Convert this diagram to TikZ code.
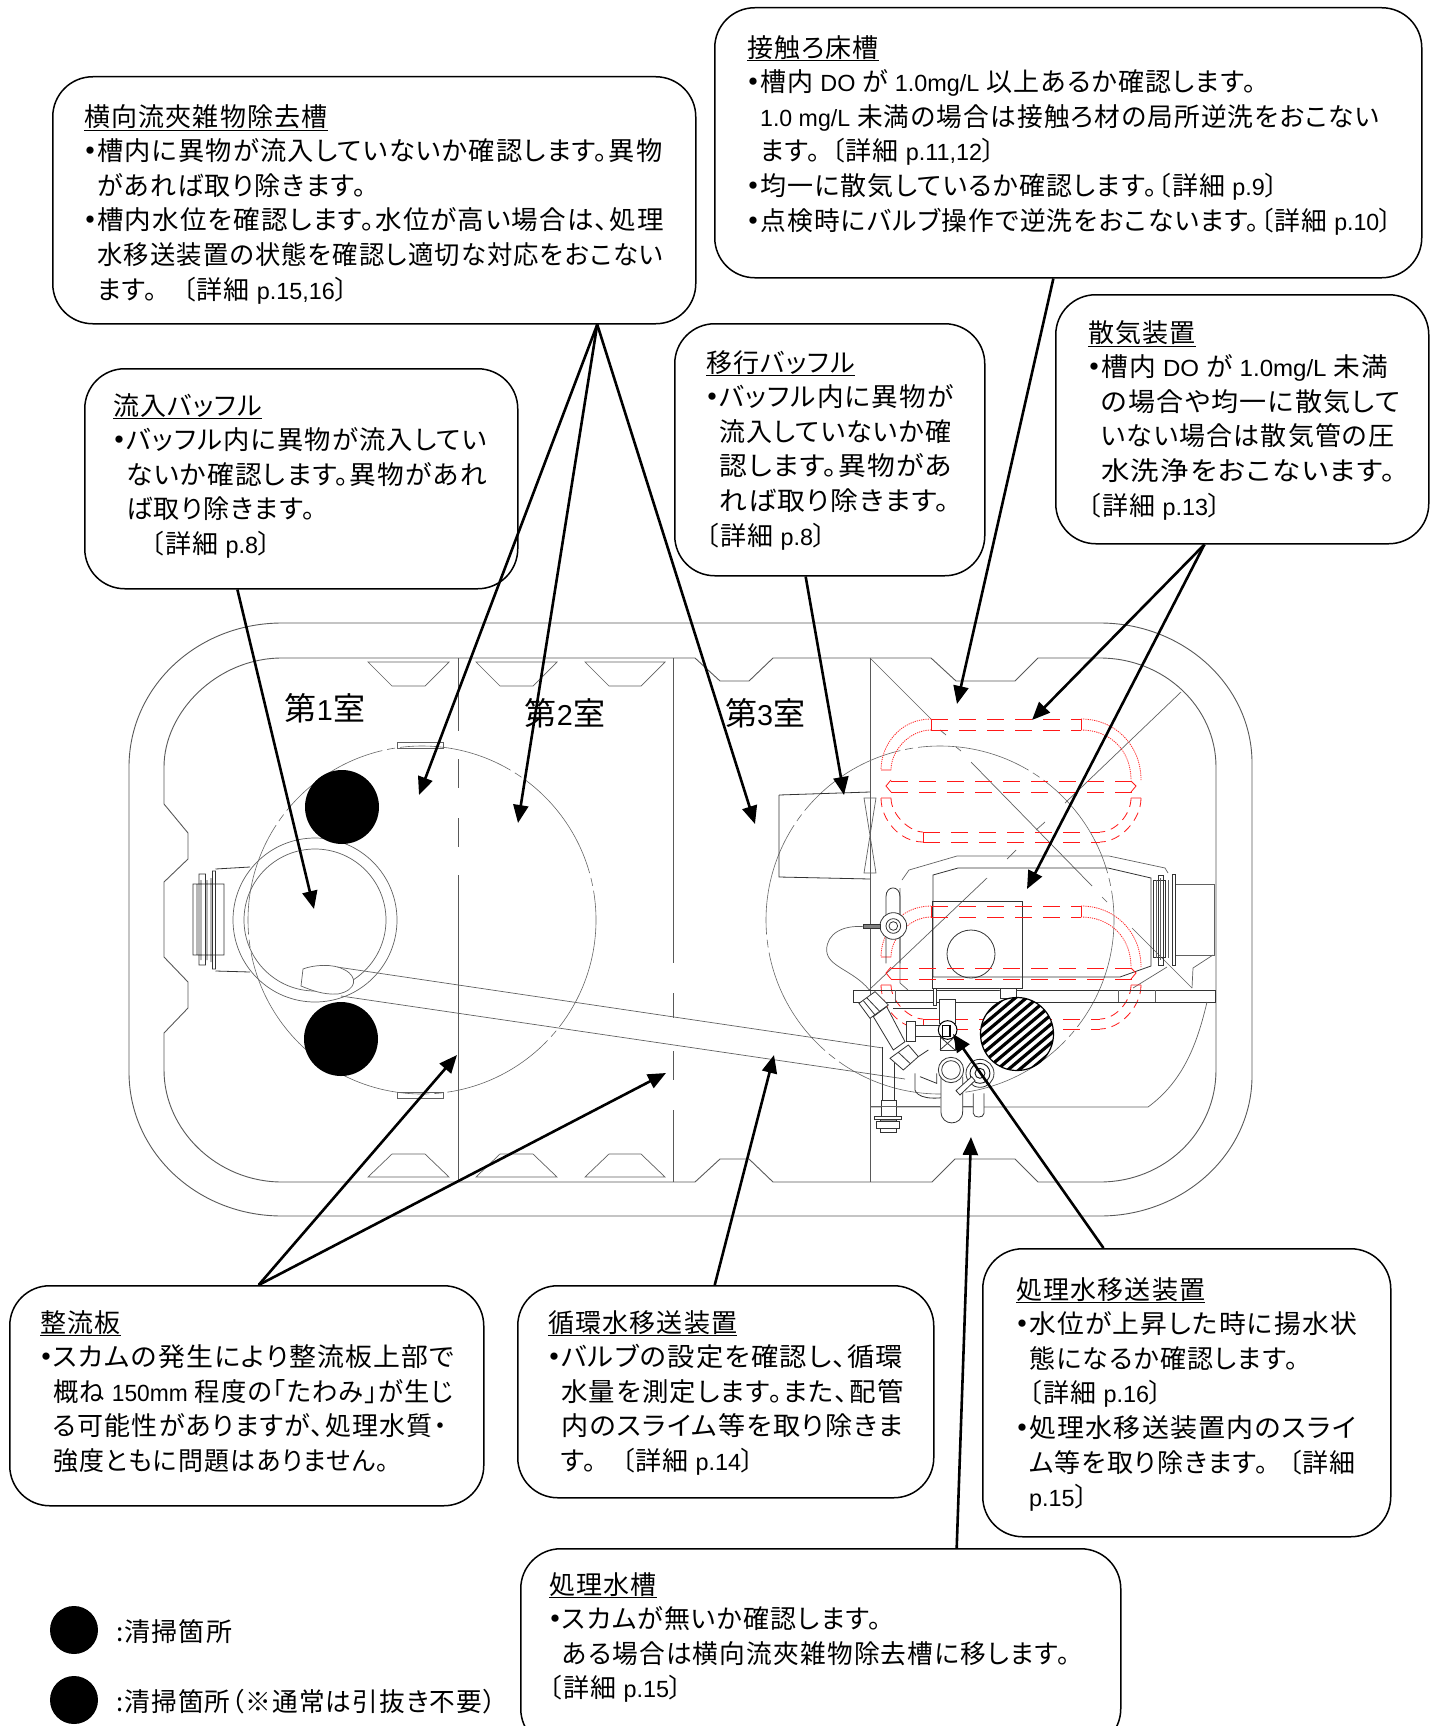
\documentclass[tikz,border=0pt]{standalone}
\usepackage{fontspec}
\usetikzlibrary{arrows.meta,calc}
\setmainfont[RawFeature=+palt,LetterSpace=4.5]{Noto Sans CJK JP}
\newfontfamily\latf[Scale=.9]{Liberation Sans}
\newcommand{\lat}[1]{{\latf #1}}
\newcommand{\bu}{\makebox[13pt][c]{\textbf{・}}}
\newcommand{\ind}{\hspace*{13pt}}
\newcommand{\sx}[2]{\scalebox{#1}[1]{#2}}
\tikzset{
  callout/.style={draw=black,line width=1.5pt,rounded corners=40pt,fill=white,inner sep=0pt,anchor=north west},
  lbl/.style={anchor=north west,inner sep=0pt,align=left,font=\fontsize{26}{34.6}\selectfont},
  room/.style={inner sep=0pt,font=\fontsize{32}{36}\selectfont},
  ptr/.style={line width=2.6pt,-{Triangle[length=18pt,width=15pt]},shorten <=0pt},
  ln/.style={draw=black!62,line width=.7pt},
  wall/.style={draw=black!65,line width=.9pt},
  ink/.style={draw=black!80,line width=.8pt},
  rd/.style={draw=red!90,line width=.8pt,dash pattern=on 17pt off 11pt},
  rdot/.style={draw=red!85,line width=.8pt,dash pattern=on 1.2pt off 1pt},
  rsolid/.style={draw=red!90,line width=.8pt},
  dashc/.style={draw=black!60,line width=.6pt,dash pattern=on 115pt off 5pt on 8pt off 5pt},
  blob/.style={fill=black,draw=none}
}
\begin{document}
\begin{tikzpicture}[x=1pt,y=-1pt]
\clip (0,0) rectangle (1431,1726);
\fill[white] (0,0) rectangle (1431,1726);

% tank outer
\path[wall] (282,623) -- (1100,623) .. controls (1184,623) and (1252,686) .. (1252,763)
  -- (1252,1076) .. controls (1252,1153) and (1184,1216) .. (1100,1216)
  -- (282,1216) .. controls (197,1216) and (129,1152) .. (129,1072)
  -- (129,767) .. controls (129,687) and (197,623) .. (282,623);
% tank inner
\path[wall] (282,658) -- (695,658) -- (720,681) -- (749,681) -- (773,658) -- (931,658) -- (956,681) -- (1015,681) -- (1038,658) -- (1100,658)
  .. controls (1164,658) and (1216,707) .. (1216,767) -- (1216,1070)
  .. controls (1216,1133) and (1164,1182) .. (1100,1182)
  -- (1038,1182) -- (1015,1159) -- (955,1159) -- (932,1182) -- (773,1182) -- (749,1159) -- (720,1159) -- (695,1182) -- (282,1182)
  .. controls (217,1182) and (164,1130) .. (164,1070)
  -- (164,1033) -- (188,1008) -- (188,982) -- (164,957) -- (164,882) -- (188,859) -- (188,833) -- (164,804) -- (164,767)
  .. controls (164,712) and (217,658) .. (282,658);

% trapezoids
\foreach \a/\b in {368/449,476/557,585/665}{
  \path[ln] (\a,662) -- (\b,662) -- (\b-24,686) -- (\a+24,686) -- cycle;
  \path[ln] (\a,1177) -- (\b,1177) -- (\b-24,1154) -- (\a+24,1154) -- cycle;
}
% partitions
\path[wall] (458,658) -- (458,731) (458,759) -- (458,788) (458,818) -- (458,847) (458,875) -- (458,1182);
\path[wall] (673,658) -- (673,963) (673,993) -- (673,1018) (673,1051) -- (673,1080) (673,1110) -- (673,1182);
\path[wall] (870,658) -- (870,1182);

% big circles
\path[dashc] (422,920) circle[radius=174];
\path[dashc] (940,920) circle[radius=174];
\path[ln] (397,742) rectangle (443,748) (397,1092) rectangle (443,1098);

% inflow pipe
\path[ln] (315,920) circle[radius=82] (315,920) circle[radius=71];
\path[ink] (193,884) rectangle (224,955) (199,874) rectangle (205.5,965) (212.5,871) rectangle (215.5,969)
  (215.5,869) -- (250,867) (215.5,971) -- (250,972)
  (197,884) -- (197,955) (201,880) -- (201,960) (207,880) -- (207,960) (211,878) -- (211,962);
% flow baffle plate
\path[ln] (337,967) -- (883,1048) (341,996) -- (905,1079);
\path[ln,fill=white] (303,969) .. controls (313,965) and (333,963) .. (345,970) .. controls (358,977) and (357,990) .. (338,994) .. controls (323,995) and (311,990) .. (301,986) -- cycle;

% black cleaning circles
\fill[blob] (342,807) circle[radius=37] (341,1039) circle[radius=37];

% room labels
\node[room] (room1) at (325,708) {第\lat{1}室};
\node[room] (room2) at (565,713) {第\lat{2}室};
\node[room] (room3) at (765,713) {第\lat{3}室};

% right-hand diagonals
\path[ln] (870,658) -- (931,719) (940,730) -- (946,735) (956,747) -- (961,751) (971,762) -- (1092,886) (1102,897) -- (1107,902) (1132,928) -- (1192,988);
\path[ln] (1181,692) -- (1065,803) (1045,822) -- (1036,830) (1016,850) -- (1007,859) (987,878) -- (869,990);

% transfer baffle
\path[ink] (779,795) -- (870,792) (779,795) -- (779,877) -- (870,879);
\path[ln] (864,798) -- (876,798) -- (864,873) -- (876,873) -- cycle;

% housing
\path[ln] (902,880) -- (909,870) -- (957,856) -- (1109,856) -- (1165,868) -- (1168,873)
  (900,888) -- (900,983) -- (908,990) (1167,967) -- (1133,988);
\path[ink] (933,875) -- (958,868) -- (1108,868) -- (1151,878) -- (1151,966) -- (1120,977) -- (933,977) -- cycle;
\path[ink] (932,901) rectangle (1022,988);
\path[ink] (971,954) circle[radius=24];

% right flange
\path[ln] (1175,884) -- (1214,884) -- (1214,955) -- (1175,955);
\path[ink] (1153,880) rectangle (1165,957) (1172,874) rectangle (1175,965) (1158,875) rectangle (1163,965);
\path[ln] (1156,880) -- (1156,958) (1160,878) -- (1160,960) (1168,880) -- (1168,958);
\path[ln] (1192,988) -- (1193,968) -- (1213,955);

% red coils
\foreach \dy in {0,187}{
\begin{scope}[yshift=-\dy pt]
  \path[rd] (931,719) -- (1081,719) (931,730) -- (1081,730);
  \path[rsolid] (931,719) -- (931,730) (1081,719) -- (1081,730);
  \path[rdot] (931,719) .. controls (900,719) and (881,745) .. (881,770)
              (931,730) .. controls (910,730) and (891,750) .. (891,770)
              (1081,719) .. controls (1115,719) and (1141,745) .. (1141,780)
              (1081,730) .. controls (1110,730) and (1131,750) .. (1131,780);
  \path[rsolid] (881,770) -- (891,770) (881,798) -- (891,798) (1131,798) -- (1141,798)
     (891,780) -- (886,786) -- (891,792) (1131,781) -- (1136,786) -- (1131,792);
  \path[rd] (891,781) -- (1133,781) (891,792) -- (1133,792);
  \path[rd,dash pattern=on 9pt off 6pt] (881,798) .. controls (881,820) and (900,842) .. (923,842)
     (891,798) .. controls (891,815) and (910,832) .. (923,832)
     (1141,798) .. controls (1141,820) and (1120,842) .. (1100,842)
     (1131,798) .. controls (1131,815) and (1115,832) .. (1100,832);
  \path[rd] (923,832) -- (1100,832) (923,842) -- (1100,842);
  \path[rsolid] (923,832) -- (923,842);
\end{scope}
}

% plate and tank below
\path[ink] (853,990) rectangle (1215,1002);
\path[ln] (895,990) -- (895,1002) (1118,990) -- (1118,1002) (1155,990) -- (1155,1002);
\path[ln] (1207,1002) .. controls (1198,1040) and (1185,1080) .. (1148,1107) -- (870,1107);

% pipe work, in crop coordinates
\begin{scope}[shift={(780,860)},x=.3333pt,y=-.3333pt]
  \path[ink] (318,110) .. controls (318,75) and (360,75) .. (360,110) -- (360,310) (318,110) -- (318,310);
  \path[ink,fill=white] (340,198) circle[radius=40];
  \path[ink] (340,198) circle[radius=22] (340,198) circle[radius=13];
  \path[ink,fill=black!50] (250,192) rectangle (300,205);
  \path[ln] (250,200) .. controls (190,195) and (140,220) .. (140,270) .. controls (140,320) and (220,330) .. (268,390);
  \path[ink,fill=white] (460,385) rectangle (470,435) (660,385) rectangle (710,415);
  \path[ink] (340,445) -- (470,445) (470,385) -- (470,435);
  % diagonal pipe
  \path[ink,fill=white] (280,470) -- (340,570) -- (375,545) -- (320,440) -- cycle;
  \path[ink,fill=white] (237,430) -- (285,395) -- (325,435) -- (270,475) -- cycle;
  \path[ink] (260,413) -- (300,455) (250,422) -- (285,465);
  \path[ink,fill=white] (330,595) -- (385,555) -- (415,590) -- (370,630) -- cycle;
  \path[ink] (355,577) -- (392,612);
  % vertical down pipe and bolt
  \path[ink] (308,560) -- (308,720) (342,610) -- (342,720);
  \path[ink,fill=white] (305,722) rectangle (348,770);
  \path[ink,fill=white] (283,770) rectangle (365,778) (290,785) rectangle (358,805) (300,805) rectangle (350,818);
  \path[ink,fill=black!40] (300,778) rectangle (350,785);
  % horizontal branch
  \path[ink,fill=white] (380,483) rectangle (405,545) (405,497) rectangle (490,530);
  \path[ink,fill=white] (478,417) rectangle (525,490);
  \path[ink,fill=white] (480,530) rectangle (525,570);
  \path[ink] (480,530) -- (525,570) (525,530) -- (480,570);
  \path[draw=black,line width=1pt,fill=white] (503,510) circle[radius=28];
  \path[draw=black,line width=1.2pt,fill=white] (487,497) rectangle (510,530);
  % lower body
  \path[ink] (405,640) -- (405,690) .. controls (410,710) and (450,725) .. (530,705);
  \path[ink] (415,590) -- (445,570) (420,650) -- (470,670) -- (470,640);
  \path[ink,fill=white] (483,650) -- (483,755) .. controls (483,800) and (548,800) .. (548,755) -- (548,650);
  \path[ink,fill=white] (580,700) -- (580,760) .. controls (580,775) and (612,775) .. (612,760) -- (612,700);
  \path[ink,fill=white] (513,630) circle[radius=38];
  \path[ink] (513,630) circle[radius=28];
  \path[ink,fill=white] (600,640) circle[radius=42];
  \path[draw=black!90,line width=.9pt] (600,640) circle[radius=30] (600,640) circle[radius=15];
  \path[ink,fill=white] (528,692) -- (575,650) -- (585,662) -- (540,705) -- cycle;
  \path[ln] (270,740) -- (480,740) (550,740) -- (580,740);
\end{scope}

% hatched circle
\begin{scope}
  \clip (1017,1034) circle[radius=36.5];
  \fill[white] (1017,1034) circle[radius=36.5];
  \begin{scope}[shift={(1017,1034)}]
    \foreach \k in {-7,...,7}
      \draw[black,line width=3.2pt] (-60,{\k*9.4+50.4}) -- (60,{\k*9.4-50.4});
  \end{scope}
\end{scope}
\node[draw=black,line width=1.2pt,circle,minimum size=73pt,inner sep=0pt] (hatch) at (1017,1034) {};

% callouts
\node[callout,minimum width=643pt,minimum height=247pt] (boxA) at (52,76) {};
\node[callout,minimum width=707pt,minimum height=270pt] (boxB) at (714,7) {};
\node[callout,minimum width=433pt,minimum height=220pt] (boxC) at (84,368) {};
\node[callout,minimum width=310pt,minimum height=252pt] (boxD) at (674,323) {};
\node[callout,minimum width=373pt,minimum height=249pt] (boxE) at (1055,294) {};
\node[callout,minimum width=474pt,minimum height=220pt] (boxF) at (9,1285) {};
\node[callout,minimum width=416pt,minimum height=212pt] (boxG) at (517,1285) {};
\node[callout,minimum width=408pt,minimum height=288pt] (boxH) at (982,1248) {};
\node[callout,minimum width=600pt,minimum height=200pt] (boxI) at (520,1548) {};

\node[lbl] (txtA) at (84,104) {\underline{横向流夾雑物除去槽}\\
\bu \sx{1.01}{槽内に異物が流入していないか確認します。異物}\\
\ind があれば取り除きます。\\
\bu \sx{1.02}{槽内水位を確認します。水位が高い場合は、処理}\\
\ind \sx{.975}{水移送装置の状態を確認し適切な対応をおこない}\\
\ind ます。\hspace*{25pt}〔詳細 \lat{p.15,16}〕};
\node[lbl] (txtB) at (747,35) {\underline{接触ろ床槽}\\
\bu 槽内 \lat{DO} が \lat{1.0mg/L} 以上あるか確認します。\\
\ind \sx{.988}{\lat{1.0 mg/L} 未満の場合は接触ろ材の局所逆洗をおこない}\\
\ind ます。\hspace*{11pt}〔詳細 \lat{p.11,12}〕\\
\bu 均一に散気しているか確認します。〔詳細 \lat{p.9}〕\\
\bu \sx{.99}{点検時にバルブ操作で逆洗をおこないます。〔詳細 \lat{p.10}〕}};
\node[lbl] (txtC) at (113,393) {\underline{流入バッフル}\\
\bu \sx{1.012}{バッフル内に異物が流入してい}\\
\ind \sx{1.028}{ないか確認します。異物があれ}\\
\ind ば取り除きます。\\
\hspace*{38pt}〔詳細 \lat{p.8}〕};
\node[lbl] (txtD) at (706,350) {\underline{移行バッフル}\\
\bu \sx{1.024}{バッフル内に異物が}\\
\ind 流入していないか確\\
\ind \sx{1.07}{認します。異物があ}\\
\ind \sx{1.067}{れば取り除きます。}\\
〔詳細 \lat{p.8}〕};
\node[lbl] (txtE) at (1088,320) {\underline{散気装置}\\
\bu \sx{1.028}{槽内 \lat{DO} が \lat{1.0mg/L} 未満}\\
\ind \sx{1.04}{の場合や均一に散気して}\\
\ind いない場合は散気管の圧\\
\ind \sx{1.094}{水洗浄をおこないます。}\\
〔詳細 \lat{p.13}〕};
\node[lbl] (txtF) at (40,1310) {\underline{整流板}\\
\bu \sx{1.034}{スカムの発生により整流板上部で}\\
\ind \sx{.973}{概ね \lat{150mm} 程度の「たわみ」が生じ}\\
\ind る可能性がありますが、処理水質・\\
\ind \sx{.959}{強度ともに問題はありません。}};
\node[lbl] (txtG) at (548,1310) {\underline{循環水移送装置}\\
\bu \sx{1.05}{バルブの設定を確認し、循環}\\
\ind \sx{1.016}{水量を測定します。また、配管}\\
\ind \sx{1.044}{内のスライム等を取り除きま}\\
\ind す。\hspace*{25pt}〔詳細 \lat{p.14}〕};
\node[lbl] (txtH) at (1016,1277) {\underline{処理水移送装置}\\
\bu \sx{1.03}{水位が上昇した時に揚水状}\\
\ind 態になるか確認します。\\
\ind 〔詳細 \lat{p.16}〕\\
\bu \sx{1.038}{処理水移送装置内のスライ}\\
\ind ム等を取り除きます。\hspace*{20pt}〔詳細\\
\ind \lat{p.15}〕};
\node[lbl] (txtI) at (549,1572) {\underline{処理水槽}\\
\bu スカムが無いか確認します。\\
\ind \sx{.988}{ある場合は横向流夾雑物除去槽に移します。}\\
〔詳細 \lat{p.15}〕};

% legend
\fill[blob] (74,1630) circle[radius=24];
\fill[blob] (74,1700) circle[radius=24];
\node[lbl] (leg1) at (116,1619) {:清掃箇所};
\node[lbl] (leg2) at (116,1689) {\sx{.986}{:清掃箇所（※通常は引抜き不要）}};

% connector free ends
\coordinate (t1) at (419,795);
\coordinate (t2) at (518,823);
\coordinate (t3) at (755,824);
\coordinate (t4) at (314,909);
\coordinate (t5) at (844,795);
\coordinate (t6) at (957,704);
\coordinate (t7) at (1032,720);
\coordinate (t8) at (1027,889);
\coordinate (t9) at (457,1055);
\coordinate (t10) at (666,1073);
\coordinate (t11) at (774,1055);
\coordinate (t12) at (953,1034);
\coordinate (t13) at (971,1137);

\draw[ptr] ($(boxA.south west)!.846!(boxA.south east)$) -- (t1);
\draw[ptr] ($(boxA.south west)!.846!(boxA.south east)$) -- (t2);
\draw[ptr] ($(boxA.south west)!.846!(boxA.south east)$) -- (t3);
\draw[ptr] ($(boxC.south west)!.353!(boxC.south east)$) -- (t4);
\draw[ptr] ($(boxD.south west)!.4226!(boxD.south east)$) -- (t5);
\draw[ptr] ($(boxB.south west)!.479!(boxB.south east)$) -- (t6);
\draw[ptr] ($(boxE.south west)!.399!(boxE.south east)$) -- (t7);
\draw[ptr] ($(boxE.south west)!.399!(boxE.south east)$) -- (t8);
\draw[ptr] ($(boxF.north west)!.525!(boxF.north east)$) -- (t9);
\draw[ptr] ($(boxF.north west)!.525!(boxF.north east)$) -- (t10);
\draw[ptr] ($(boxG.north west)!.4736!(boxG.north east)$) -- (t11);
\draw[ptr] ($(boxH.north west)!.2966!(boxH.north east)$) -- (t12);
\draw[ptr] ($(boxI.north west)!.726!(boxI.north east)$) -- (t13);
\end{tikzpicture}
\end{document}
